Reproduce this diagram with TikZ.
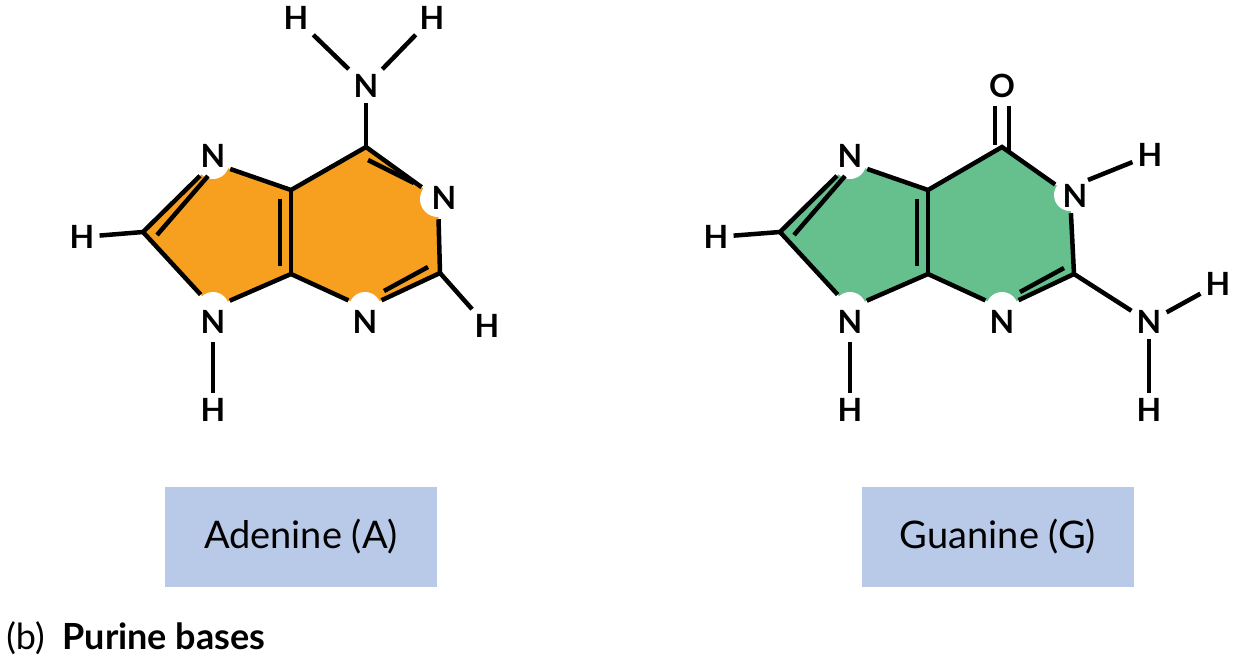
\documentclass[tikz,border=0pt]{standalone}
\usepackage{fontspec}
\setmainfont{Lato}
\begin{document}
\begin{tikzpicture}[x=1pt,y=-1pt,line width=4.5pt,
  ringn/.style={circle,fill=white,inner sep=0pt,minimum size=32pt},
  ntext/.style={inner sep=0pt,font=\fontsize{32}{32}\selectfont\bfseries},
  hatom/.style={inner sep=3pt,font=\fontsize{32}{32}\selectfont\bfseries},
  lab/.style={fill=boxblue,minimum width=272pt,minimum height=100pt,font=\fontsize{38}{38}\selectfont}]
\definecolor{ade}{HTML}{F7A020}
\definecolor{gua}{HTML}{66C08E}
\definecolor{boxblue}{HTML}{B9C9E8}
\useasboundingbox (0,0) rectangle (1236,662);
% ---------- Adenine ----------
\coordinate (aC8) at (143,232); \coordinate (aC5) at (291,190); \coordinate (aC4) at (291,274);
\coordinate (aC6) at (366,147); \coordinate (aC2) at (440,273);
\fill[ade] (aC8) -- (213,163) -- (aC5) -- (aC6) -- (438,199) -- (aC2) -- (365,308) -- (aC4) -- (213,308) -- cycle;
\node[ringn] (aN7) at (213,163) {};
\node[ringn] (aN9) at (213,308) {};
\node[ringn] (aN3) at (365,308) {};
\node[ringn,minimum size=36pt] (aN1) at (438,199) {};
\node[hatom] (aN6) at (366,86) {N};
\node[hatom] (aH6a) at (296,18) {H};
\node[hatom] (aH6b) at (432,18) {H};
\node[hatom] (aH8) at (82,237) {H};
\node[hatom] (aH9) at (213,410) {H};
\node[hatom] (aH2) at (487,326) {H};
\coordinate (aN9b) at (213,342);
\draw (aC8) -- (aN7) (aN7) -- (aC5) -- (aC6) -- (aN1) (aN1) -- (aC2) -- (aN3) (aN3) -- (aC4) -- (aN9) (aN9) -- (aC8);
\draw (aC5) -- (aC4);
\draw (157,235) -- (208,176);
\draw (280,199) -- (280,266);
\draw (368,160) -- (414,183);
\draw (428,267) -- (384,291);
\draw (aC8) -- (aH8); \draw (aN9b) -- (aH9); \draw (aC2) -- (aH2);
\draw (aC6) -- (aN6); \draw (aN6) -- (aH6a); \draw (aN6) -- (aH6b);
\node[ntext] (aT7) at (213,156) {N};
\node[ntext] (aT9) at (213,322) {N};
\node[ntext] (aT3) at (365,322) {N};
\node[ntext] (aT1) at (444,198) {N};
\node[lab] (aL) at (301,537) {Adenine (A)};
% ---------- Guanine ----------
\coordinate (gC8) at (780,232); \coordinate (gC5) at (928,190); \coordinate (gC4) at (928,274);
\coordinate (gC6) at (1002,147); \coordinate (gC2) at (1074,274);
\fill[gua] (gC8) -- (850,163) -- (gC5) -- (gC6) -- (1070,195) -- (gC2) -- (1002,308) -- (gC4) -- (850,308) -- cycle;
\node[ringn] (gN7) at (850,163) {};
\node[ringn] (gN9) at (850,308) {};
\node[ringn] (gN3) at (1002,308) {};
\node[ringn] (gN1) at (1070,195) {};
\node[hatom] (gO) at (1002,86) {O};
\node[hatom] (gN2) at (1149,322) {N};
\node[hatom] (gH1) at (1150,155) {H};
\node[hatom] (gH2a) at (1218,284) {H};
\node[hatom] (gH2b) at (1149,410) {H};
\node[hatom] (gH8) at (716,237) {H};
\node[hatom] (gH9) at (850,410) {H};
\coordinate (gN9b) at (850,342);
\coordinate (gN1b) at (1088,180);
\draw (gC8) -- (gN7) (gN7) -- (gC5) -- (gC6) -- (gN1) (gN1) -- (gC2) -- (gN3) (gN3) -- (gC4) -- (gN9) (gN9) -- (gC8);
\draw (gC5) -- (gC4);
\draw (794,235) -- (845,176);
\draw (917,199) -- (917,266);
\draw (1064,268) -- (1020,292);
\draw (995,106) -- (995,145);
\draw (1009,106) -- (1009,151);
\draw (gC8) -- (gH8); \draw (gN9b) -- (gH9);
\draw (gN1b) -- (gH1); \draw (gC2) -- (gN2); \draw (gN2) -- (gH2a); \draw (gN2) -- (gH2b);
\node[ntext] (gT7) at (850,156) {N};
\node[ntext] (gT9) at (850,322) {N};
\node[ntext] (gT3) at (1002,322) {N};
\node[ntext] (gT1) at (1075,196) {N};
\node[lab] (gL) at (998,537) {Guanine (G)};
\node[anchor=west,inner sep=0pt,font=\fontsize{36}{36}\selectfont] (cap) at (4,638) {(b)\enspace\textbf{Purine bases}};
\end{tikzpicture}
\end{document}
